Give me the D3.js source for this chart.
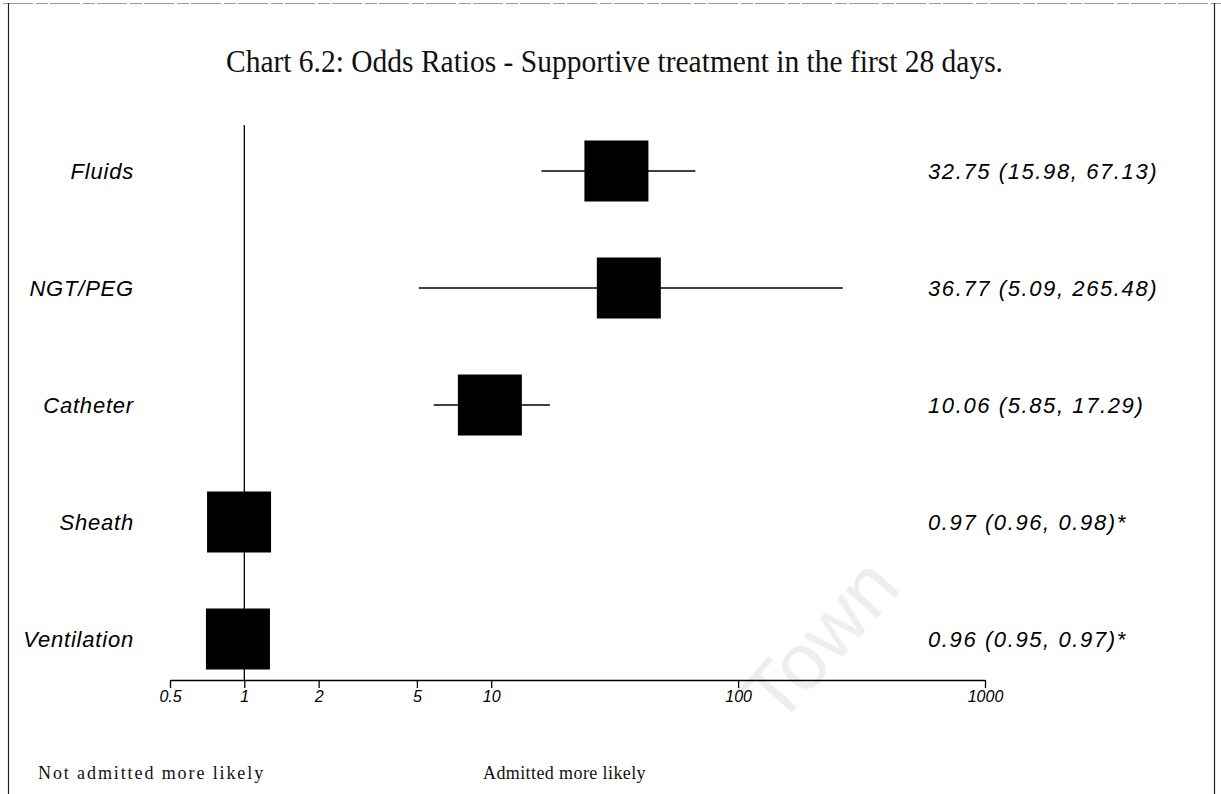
<!DOCTYPE html>
<html>
<head>
<meta charset="utf-8">
<script src="https://cdn.jsdelivr.net/npm/d3@7"></script>
<style>
  html, body { margin: 0; padding: 0; background: #fff; }
  svg { display: block; }
</style>
</head>
<body>
<svg id="chart" width="1221" height="794"></svg>
<script>
// ---- data ----
const categories = ["Fluids", "NGT/PEG", "Catheter", "Sheath", "Ventilation"];
const oddsRatio  = [32.75, 36.77, 10.06, 0.97, 0.96];
const ciLower    = [15.98, 5.09, 5.85, 0.96, 0.95];
const ciUpper    = [67.13, 265.48, 17.29, 0.98, 0.97];
const valueLabels = [
  "32.75 (15.98, 67.13)",
  "36.77 (5.09, 265.48)",
  "10.06 (5.85, 17.29)",
  "0.97 (0.96, 0.98)*",
  "0.96 (0.95, 0.97)*"
];
const tickValues = [0.5, 1, 2, 5, 10, 100, 1000];
const tickLabels = ["0.5", "1", "2", "5", "10", "100", "1000"];
const title = "Chart 6.2: Odds Ratios - Supportive treatment in the first 28 days.";
const leftNote = "Not admitted more likely";
const rightNote = "Admitted more likely";

// ---- layout ----
const svg = d3.select("#chart");
const axisY = 680;
const x = d3.scaleLog().domain([0.5, 1000]).range([170, 985]);
const y = d3.scalePoint().domain(categories).range([171, 639]);
const boxW = 64, boxH = 61;

// watermark (scan artefact)
svg.append("text")
  .attr("transform", "translate(778,728) rotate(-48)")
  .style("font-family", "Liberation Sans, Arial, sans-serif")
  .style("font-size", "80px")
  .style("fill", "#eeeeee")
  .text("Town");

// frame
svg.append("line").attr("x1", 3).attr("x2", 1221).attr("y1", 3.5).attr("y2", 3.5)
  .attr("stroke", "#999").attr("stroke-width", 1).attr("stroke-dasharray", "30,3,12,2");
svg.append("line").attr("x1", 8.5).attr("x2", 8.5).attr("y1", 3).attr("y2", 794)
  .attr("stroke", "#222").attr("stroke-width", 1.2);
svg.append("line").attr("x1", 1214.5).attr("x2", 1214.5).attr("y1", 3).attr("y2", 794)
  .attr("stroke", "#222").attr("stroke-width", 1.2);

// title
svg.append("text")
  .attr("x", 614.5).attr("y", 72)
  .attr("text-anchor", "middle")
  .attr("textLength", 777)
  .attr("lengthAdjust", "spacingAndGlyphs")
  .style("font-family", "Liberation Serif, Times New Roman, serif")
  .style("font-size", "31px")
  .style("fill", "#111")
  .text(title);

// reference line at OR = 1
svg.append("line")
  .attr("x1", x(1)).attr("x2", x(1))
  .attr("y1", 125).attr("y2", axisY)
  .attr("stroke", "#000").attr("stroke-width", 1.3);

// axis
const axis = d3.axisBottom(x)
  .tickValues(tickValues)
  .tickSize(8)
  .tickPadding(3)
  .tickSizeOuter(0)
  .tickFormat((d, i) => tickLabels[i]);
const gAxis = svg.append("g").attr("transform", `translate(0,${axisY})`).call(axis);
gAxis.select(".domain").attr("stroke", "#000").attr("stroke-width", 1.3);
gAxis.selectAll(".tick line").attr("stroke", "#000").attr("stroke-width", 1.3);
gAxis.selectAll(".tick text")
  .style("font-family", "Liberation Sans, Arial, sans-serif")
  .style("font-style", "italic")
  .style("font-size", "16px")
  .style("fill", "#000");

// rows
const rows = categories.map((c, i) => ({ c, or: oddsRatio[i], lo: ciLower[i], hi: ciUpper[i], lab: valueLabels[i] }));

svg.selectAll("line.ci").data(rows).enter().append("line")
  .attr("class", "ci")
  .attr("x1", d => x(d.lo)).attr("x2", d => x(d.hi))
  .attr("y1", d => y(d.c)).attr("y2", d => y(d.c))
  .attr("stroke", "#000").attr("stroke-width", 1.3);

svg.selectAll("rect.box").data(rows).enter().append("rect")
  .attr("class", "box")
  .attr("x", d => x(d.or) - boxW / 2 - 2)
  .attr("y", d => y(d.c) - boxH / 2)
  .attr("width", boxW).attr("height", boxH)
  .attr("fill", "#000");

svg.selectAll("text.cat").data(rows).enter().append("text")
  .attr("class", "cat")
  .attr("x", 134).attr("y", d => y(d.c))
  .attr("dy", "0.36em")
  .attr("text-anchor", "end")
  .style("font-family", "Liberation Sans, Arial, sans-serif")
  .style("font-style", "italic")
  .style("font-size", "22px")
  .style("letter-spacing", "0.8px")
  .style("fill", "#000")
  .text(d => d.c);

svg.selectAll("text.val").data(rows).enter().append("text")
  .attr("class", "val")
  .attr("x", 928).attr("y", d => y(d.c))
  .attr("dy", "0.36em")
  .style("font-family", "Liberation Sans, Arial, sans-serif")
  .style("font-style", "italic")
  .style("font-size", "22px")
  .style("letter-spacing", "1.6px")
  .style("fill", "#000")
  .text(d => d.lab);

// bottom notes
svg.append("text").attr("x", 38).attr("y", 779)
  .style("font-family", "Liberation Serif, Times New Roman, serif")
  .style("font-size", "18px").style("letter-spacing", "1.9px").style("fill", "#111")
  .text(leftNote);
svg.append("text").attr("x", 483).attr("y", 779)
  .style("font-family", "Liberation Serif, Times New Roman, serif")
  .style("font-size", "18px").style("letter-spacing", "0.4px").style("fill", "#111")
  .text(rightNote);
</script>
</body>
</html>
